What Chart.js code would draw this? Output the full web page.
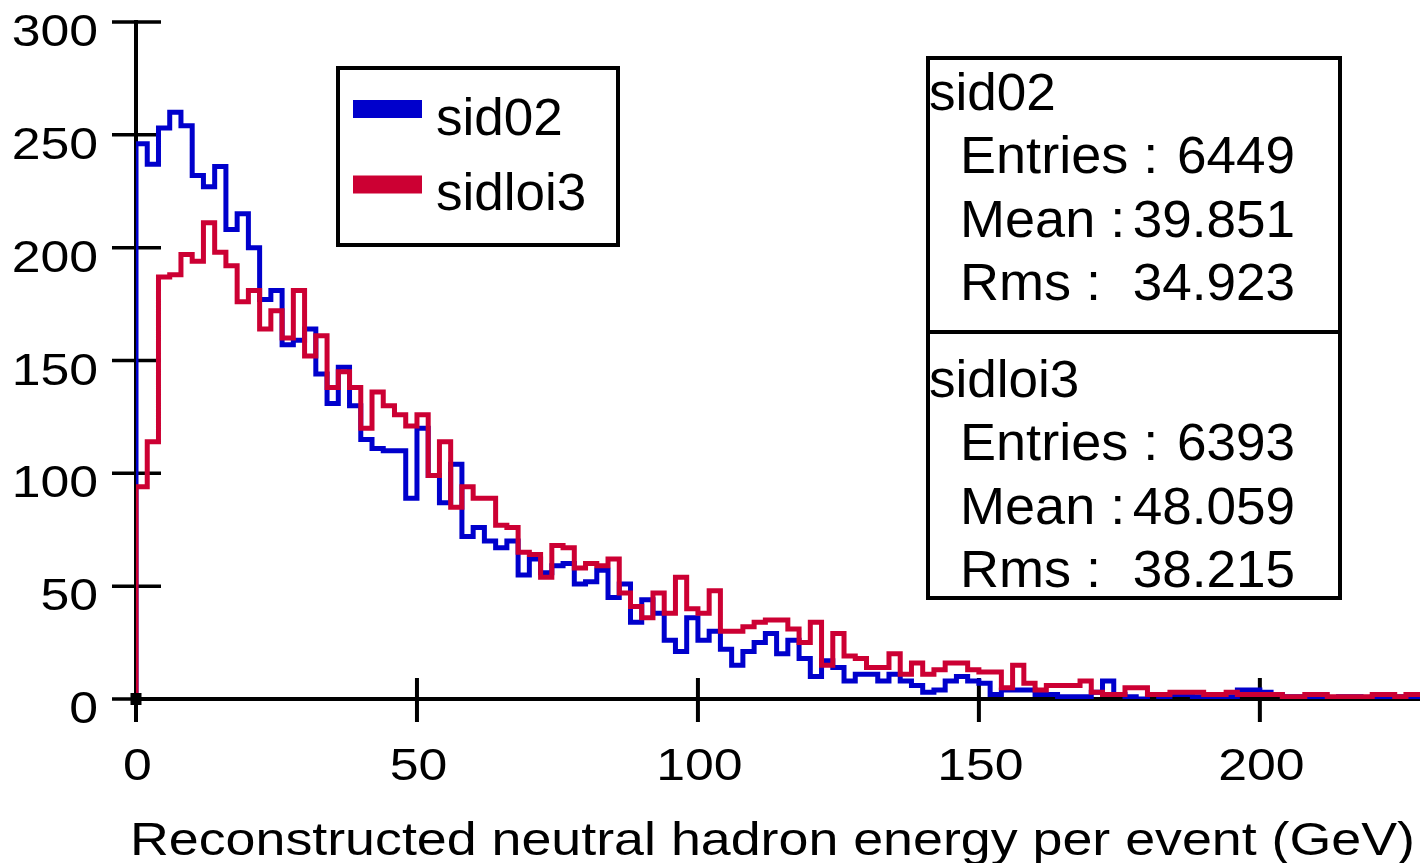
<!DOCTYPE html>
<html>
<head>
<meta charset="utf-8">
<title>Reconstructed neutral hadron energy per event</title>
<script src="https://cdn.jsdelivr.net/npm/chart.js@4.4.1/dist/chart.umd.min.js"></script>
<style>
  html, body { margin: 0; padding: 0; background: #fff; }
  #chart { display: block; }
</style>
</head>
<body>
<canvas id="chart" width="1420" height="863"></canvas>
<script>
// ─── Data ────────────────────────────────────────────────
// Histogram contents, 2 GeV bins starting at 0 GeV
const BIN_WIDTH = 2;
const X_TITLE = "Reconstructed neutral hadron energy per event (GeV)";
const SERIES_NAMES = ["sid02", "sidloi3"];

const sid02 = [
  246, 237, 253, 260, 254, 232, 227, 236, 208, 215,
  200, 177, 181, 157, 159, 164, 144, 131, 147, 130,
  115, 111, 110, 110,  89, 120,  99,  87, 104,  72,
   76,  70,  67,  70,  55,  62,  56,  59,  60,  51,
   52,  57,  45,  51,  34,  44,  38,  26,  21,  36,
   26,  30,  22,  15,  21,  25,  29,  20,  26,  18,
   10,  17,  14,   8,  11,  11,   8,  11,   8,   6,
    3,   4,   8,  10,   8,   7,   2,   4,   4,   4,
    2,   2,   1,   1,   1,   3,   8,   2,   1,   0,
    2,   1,   2,   2,   1,   1,   1,   1,   4,   4,
    3,   2,   1,   1,   0,   1,   0,   1,   1,   0,
    1,   0,   1,   0,   0
];

const sidloi3 = [
   94, 114, 187, 188, 197, 194, 211, 198, 192, 176,
  181, 164, 172, 160, 181, 152, 161, 138, 145, 138,
  120, 136, 130, 126, 121, 126,  99, 114,  85,  94,
   89,  89,  77,  76,  65,  64,  54,  68,  67,  58,
   60,  59,  62,  47,  41,  36,  47,  38,  54,  40,
   38,  48,  30,  30,  32,  34,  35,  35,  31,  25,
   34,  15,  29,  19,  18,  14,  14,  20,  11,  16,
   11,  13,  16,  16,  13,  12,  12,   5,  15,   7,
    4,   6,   6,   6,   8,   3,   2,   2,   5,   5,
    2,   2,   3,   3,   3,   2,   2,   3,   2,   2,
    2,   2,   1,   1,   2,   2,   1,   1,   1,   1,
    2,   2,   1,   2,   2
];

// Statistics box: [entries, mean, rms]
const sid02Stats   = ["6449", "39.851", "34.923"];
const sidloi3Stats = ["6393", "48.059", "38.215"];
const STAT_LABELS  = ["Entries :", "Mean :", "Rms :"];

const X_MAX = 228.5;
const Y_MAX = 300;

// ─── Style ───────────────────────────────────────────────
const BLUE = "#0000cc";
const RED  = "#cc0033";
const FONT = "'Liberation Sans', Arial, Helvetica, sans-serif";

// ─── Helpers ─────────────────────────────────────────────
function stepPoints(counts) {
  const pts = [{ x: 0, y: 0 }];
  counts.forEach((c, i) => pts.push({ x: i * BIN_WIDTH, y: c }));
  pts.push({ x: counts.length * BIN_WIDTH, y: counts[counts.length - 1] });
  return pts;
}

// draws text squeezed/stretched horizontally by sx
function text(ctx, str, x, y, size, align, sx) {
  ctx.save();
  ctx.font = size + "px " + FONT;
  ctx.textAlign = align;
  ctx.textBaseline = "alphabetic";
  ctx.fillStyle = "#000";
  ctx.translate(x, y);
  ctx.scale(sx, 1);
  ctx.fillText(str, 0, 0);
  ctx.restore();
}

// ─── Frame plugin: crossing ticks, labels, legend, stats ─
const framePlugin = {
  id: "frame",
  beforeDatasetsDraw(chart) {
    const { ctx, scales: { x, y } } = chart;
    const x0 = x.getPixelForValue(0);
    const y0 = y.getPixelForValue(0);

    ctx.save();
    ctx.strokeStyle = "#000";
    ctx.lineCap = "butt";

    // y ticks cross the axis
    ctx.lineWidth = 3.5;
    y.ticks.forEach(t => {
      const py = y.getPixelForValue(t.value);
      ctx.beginPath();
      ctx.moveTo(x0 - 24, py);
      ctx.lineTo(x0 + 25, py);
      ctx.stroke();
      text(ctx, String(t.value), x0 - 38, py + 24, 45, "right", 1.15);
    });

    // x ticks cross the axis
    ctx.lineWidth = 4;
    x.ticks.forEach(t => {
      const px = x.getPixelForValue(t.value);
      ctx.beginPath();
      ctx.moveTo(px, y0 - 21);
      ctx.lineTo(px, y0 + 23);
      ctx.stroke();
      text(ctx, String(t.value), px + 1.5, y0 + 81, 45, "center", 1.15);
    });
    ctx.restore();

    // axis title, fitted to the reference width
    ctx.save();
    ctx.font = "46px " + FONT;
    const w = ctx.measureText(X_TITLE).width;
    ctx.restore();
    text(ctx, X_TITLE, 130, 855, 46, "left", 1285 / w);
  },
  afterDatasetsDraw(chart) {
    const { ctx, scales: { x, y } } = chart;
    const x0 = x.getPixelForValue(0);
    const y0 = y.getPixelForValue(0);

    ctx.save();
    ctx.fillStyle = "#000";
    ctx.fillRect(x0 - 5.5, y0 - 6, 11, 12);

    // legend box
    ctx.strokeStyle = "#000";
    ctx.lineWidth = 4;
    ctx.strokeRect(338, 68, 280, 177);
    ctx.lineWidth = 18;
    ctx.lineCap = "butt";
    [[BLUE, 109], [RED, 184.5]].forEach(([c, ly]) => {
      ctx.strokeStyle = c;
      ctx.beginPath();
      ctx.moveTo(353, ly);
      ctx.lineTo(422, ly);
      ctx.stroke();
    });
    ctx.restore();
    text(ctx, SERIES_NAMES[0], 436, 135, 51, "left", 1.04);
    text(ctx, SERIES_NAMES[1], 436, 210, 51, "left", 1.04);

    // statistics box
    ctx.save();
    ctx.strokeStyle = "#000";
    ctx.lineWidth = 4;
    ctx.strokeRect(928, 58, 412, 540);
    ctx.beginPath();
    ctx.moveTo(928, 332);
    ctx.lineTo(1340, 332);
    ctx.stroke();
    ctx.restore();

    [[SERIES_NAMES[0], sid02Stats, 0], [SERIES_NAMES[1], sidloi3Stats, 287]].forEach(([name, st, off]) => {
      text(ctx, name, 929, 110 + off, 51, "left", 1.04);
      STAT_LABELS.forEach((lab, i) => {
        const by = 173 + off + i * 63.5;
        text(ctx, lab, 960, by, 51, "left", 1.06);
        text(ctx, st[i], 1295, by, 51, "right", 1.04);
      });
    });
  }
};

// ─── Chart ───────────────────────────────────────────────
const ctx = document.getElementById("chart").getContext("2d");
new Chart(ctx, {
  type: "line",
  data: {
    datasets: [
      {
        label: SERIES_NAMES[1],
        data: stepPoints(sidloi3),
        borderColor: RED,
        borderWidth: 5,
        stepped: true,
        pointRadius: 0,
        fill: false,
        order: 0
      },
      {
        label: SERIES_NAMES[0],
        data: stepPoints(sid02),
        borderColor: BLUE,
        borderWidth: 5,
        stepped: true,
        pointRadius: 0,
        fill: false,
        order: 1
      }
    ]
  },
  options: {
    responsive: false,
    animation: false,
    devicePixelRatio: 1,
    layout: { padding: { top: 22, right: 0, bottom: 0, left: 0 } },
    plugins: { legend: { display: false }, tooltip: { enabled: false } },
    scales: {
      x: {
        type: "linear",
        min: 0,
        max: X_MAX,
        ticks: { display: false, stepSize: 50, includeBounds: false },
        grid: { display: false },
        border: { display: true, color: "#000", width: 4 },
        afterFit(s) { s.height = 164; s.paddingLeft = 0; s.paddingRight = 0; }
      },
      y: {
        type: "linear",
        min: 0,
        max: Y_MAX,
        ticks: { display: false, stepSize: 50 },
        grid: { display: false },
        border: { display: true, color: "#000", width: 4 },
        afterFit(s) { s.width = 136; s.paddingTop = 0; s.paddingBottom = 0; }
      }
    }
  },
  plugins: [framePlugin]
});
</script>
</body>
</html>
